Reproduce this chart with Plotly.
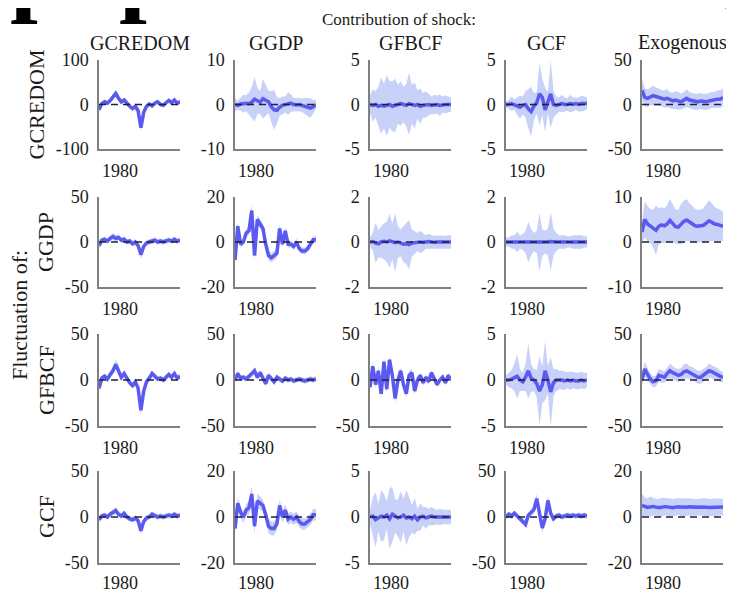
import plotly.graph_objects as go

# ---------------- data ----------------
DATES = [1974.0, 1974.8, 1975.6, 1976.4, 1977.2, 1978.0, 1978.8, 1979.6, 1980.4, 1981.2,
         1982.0, 1982.8, 1983.6, 1984.4, 1985.2, 1986.0, 1986.8, 1987.6, 1988.4, 1989.2,
         1990.0, 1990.8, 1991.6, 1992.4, 1993.2, 1994.0, 1994.8, 1995.6, 1996.4, 1997.2]

ROW_VARS = ["GCREDOM", "GGDP", "GFBCF", "GCF"]
COL_SHOCKS = ["GCREDOM", "GGDP", "GFBCF", "GCF", "Exogenous"]
X_TICKS = [1980]
X_TICK_TEXT = ["1980"]

Y_LIM_R1 = [100, 10, 5, 5, 50]
Y_LIM_R2 = [50, 20, 2, 2, 10]
Y_LIM_R3 = [50, 50, 50, 5, 50]
Y_LIM_R4 = [50, 20, 5, 50, 20]

# row 1: fluctuation of GCREDOM
MED_R1C1 = [-12, 2, 6, 3, 9, 16, 25, 14, 6, 10, 2, -4, -9, -4, -14, -52, -18, -4, 1, -3, 3, 6, 0, -2, 4, 9, 4, 10, 3, 6]
HW_R1C1 = [6, 5, 5, 5, 5, 6, 7, 6, 5, 5, 5, 5, 5, 5, 6, 8, 6, 5, 5, 5, 5, 5, 5, 5, 5, 5, 5, 5, 5, 5]
MED_R1C2 = [0, -0.2, 0.1, 0.2, 0.3, 0.2, 0.5, 1.2, 0.8, 0.5, 1.3, 1.0, 0.6, -0.5, -1.2, -1.3, -0.6, -0.2, 0.0, 0.2, 0.3, 0.0, -0.1, 0.0, -0.2, -0.3, -0.6, -0.8, -0.5, 0.0]
HW_R1C2 = [1.5, 1.0, 1.5, 2.0, 1.8, 2.5, 3.5, 5.0, 3.0, 2.5, 4.5, 3.5, 2.5, 3.5, 4.5, 3.0, 2.0, 2.0, 1.8, 2.5, 2.0, 1.5, 1.5, 1.5, 1.5, 1.8, 2.0, 2.2, 1.5, 1.0]
MED_R1C3 = [0, -0.1, 0.0, -0.2, -0.1, -0.2, -0.1, 0.0, -0.2, -0.1, 0.0, 0.1, 0.0, -0.1, 0.1, 0.0, -0.1, 0.0, -0.2, -0.1, 0.0, 0.0, -0.1, 0.0, 0.0, -0.1, 0.0, 0.0, 0.0, 0.0]
HW_R1C3 = [1.0, 1.8, 1.5, 2.2, 3.2, 2.5, 3.4, 2.6, 2.8, 3.0, 2.2, 2.5, 2.0, 2.4, 3.5, 2.2, 2.6, 1.6, 2.0, 1.4, 1.5, 1.2, 1.0, 1.1, 1.0, 1.2, 0.9, 1.0, 0.9, 0.8]
MED_R1C4 = [0, 0.0, 0.1, 0.0, -0.2, -0.3, -0.1, 0.0, -0.5, -0.8, -0.2, 0.2, 1.2, 0.8, -0.6, 0.2, 1.2, 0.0, -0.1, 0.0, 0.1, 0.0, 0.0, 0.1, 0.0, 0.1, 0.0, 0.1, 0.1, 0.1]
HW_R1C4 = [0.3, 0.5, 0.8, 0.6, 1.0, 1.3, 1.0, 1.5, 2.2, 2.8, 1.5, 1.2, 3.5, 2.0, 2.5, 1.2, 3.8, 1.5, 1.0, 0.8, 1.0, 0.8, 0.7, 1.0, 0.8, 0.7, 0.8, 0.9, 0.8, 0.7]
MED_R1C5 = [16, 8, 7, 9, 10, 9, 8, 7, 6, 7, 5, 4, 5, 4, 3, 5, 7, 5, 4, 3, 3, 4, 3, 3, 4, 5, 5, 6, 6, 8]
HW_R1C5 = [12, 10, 10, 10, 11, 10, 10, 9, 10, 10, 9, 9, 10, 10, 9, 9, 10, 9, 9, 9, 9, 9, 9, 9, 9, 9, 9, 10, 10, 10]

# row 2: fluctuation of GGDP
MED_R2C1 = [-4, 2, 3, 1, 4, 6, 4, 5, 2, 3, 0, 1, -2, 0, -4, -14, -5, -1, 0, 1, 2, 0, 1, 0, 1, 2, 1, 3, 1, 2]
HW_R2C1 = [4, 3, 3, 3, 3, 4, 4, 3, 3, 3, 3, 3, 3, 3, 3, 5, 3, 3, 3, 3, 3, 3, 3, 3, 3, 3, 3, 3, 3, 3]
MED_R2C2 = [-8, 7, -1, 0, 4, 5, 14, -6, 10, 8, 6, -1, -6, -7, -6, -5, 6, -1, 5, -1, -1, -2, 0, -3, -4, -4, -3, -1, 1, 1]
HW_R2C2 = [2, 2, 1.5, 1.5, 1.5, 2, 2.5, 2, 2, 2, 2, 1.5, 2, 2, 2, 2, 2, 1.5, 1.5, 1.5, 1.5, 1.5, 1.5, 1.5, 1.5, 1.5, 1.5, 1.5, 1.5, 1.5]
MED_R2C3 = [0, 0.02, -0.05, -0.08, 0.0, 0.03, 0.0, 0.05, 0.02, -0.03, 0.0, -0.05, -0.1, -0.08, -0.12, -0.05, -0.03, 0.0, 0.0, -0.02, 0.0, 0.02, 0.0, -0.02, 0.0, 0.0, -0.02, 0.0, 0.0, 0.0]
HW_R2C3 = [0.2, 0.4, 0.9, 0.6, 0.7, 0.8, 0.9, 1.2, 0.8, 1.3, 0.7, 0.6, 0.8, 0.9, 1.1, 0.6, 0.5, 0.4, 0.5, 0.4, 0.3, 0.35, 0.3, 0.3, 0.3, 0.3, 0.3, 0.3, 0.3, 0.3]
MED_R2C4 = [0, 0, 0, 0, 0, 0, 0, 0, 0, 0, 0, 0, 0, -0.02, 0, 0, 0.02, 0, 0, 0, 0, 0, 0, 0, 0, 0, 0, 0, 0, 0]
HW_R2C4 = [0.2, 0.2, 0.3, 0.3, 0.45, 0.3, 0.35, 0.5, 0.9, 0.6, 0.4, 0.5, 1.3, 0.6, 0.5, 0.6, 1.3, 0.6, 0.4, 0.3, 0.3, 0.3, 0.25, 0.25, 0.3, 0.3, 0.3, 0.3, 0.25, 0.25]
MED_R2C5 = [2.2, 5, 4, 3.5, 3.0, 2.6, 3.5, 3.8, 3.6, 4.0, 4.8, 4.2, 3.4, 3.3, 4.0, 4.6, 4.9, 4.4, 4.0, 3.6, 3.5, 3.6, 3.7, 4.2, 4.7, 4.4, 4.0, 3.9, 3.7, 3.5]
HW_R2C5 = [2.5, 4, 4, 3.8, 4.2, 5.5, 4, 4, 3.8, 4.2, 4.8, 4.2, 3.8, 3.8, 4.5, 4.6, 4.6, 4.2, 4.0, 3.8, 3.6, 3.6, 3.8, 4.2, 4.6, 4.2, 3.8, 3.6, 3.5, 3.3]

# row 3: fluctuation of GFBCF
MED_R3C1 = [-9, 2, 4, 1, 6, 10, 17, 9, 3, 7, 1, -3, -6, -2, -9, -33, -12, -2, 2, 7, 4, 1, 2, 0, 3, 6, 3, 7, 2, 4]
HW_R3C1 = [4, 3, 3, 3, 4, 4, 5, 4, 3, 4, 3, 3, 3, 3, 4, 6, 4, 3, 3, 3, 3, 3, 3, 3, 3, 3, 3, 3, 3, 3]
MED_R3C2 = [0, 7, 2, 3, 1, 4, 6, 10, 3, 8, 2, -4, 5, 1, -2, 3, 1, -1, 2, 0, 1, -1, 0, 1, 0, -1, 0, 1, 0, 1]
HW_R3C2 = [3, 3, 3, 3, 3, 3, 3, 4, 3, 3, 3, 3, 3, 3, 3, 3, 3, 3, 3, 3, 3, 3, 3, 3, 3, 3, 3, 3, 3, 3]
MED_R3C3 = [-8, 15, -5, 10, -15, 20, -10, 22, 5, -20, 0, 10, -5, -15, 5, 8, -12, 0, 5, -3, 3, -2, 8, 2, -5, 0, 3, -3, 5, 0]
HW_R3C3 = [4, 4, 4, 4, 4, 5, 4, 5, 4, 5, 4, 4, 4, 4, 4, 4, 4, 3, 3, 3, 3, 3, 3, 3, 3, 3, 3, 3, 3, 3]
MED_R3C4 = [0.0, 0.0, 0.1, 0.3, 0.4, 0.0, -0.2, 0.3, 1.0, 0.2, 0.0, -0.4, -1.2, -0.5, 1.0, 0.0, -1.3, -0.3, 0.0, 0.0, 0.0, -0.1, 0.0, -0.1, 0.0, -0.1, -0.1, 0.0, -0.1, 0.0]
HW_R3C4 = [0.5, 0.8, 1.0, 1.5, 2.4, 1.2, 1.0, 1.5, 3.0, 1.5, 1.2, 1.5, 3.8, 2.0, 3.2, 1.5, 3.8, 1.5, 1.2, 1.0, 1.0, 1.0, 0.9, 1.0, 0.9, 0.9, 0.9, 0.9, 0.9, 0.8]
MED_R3C5 = [0, 12, 6, 1, -2, -1, 5, 4, 3, 7, 10, 8, 6, 5, 6, 9, 10, 8, 7, 5, 3, 3, 5, 7, 10, 9, 7, 6, 4, 3]
HW_R3C5 = [5, 8, 7, 6, 6, 6, 7, 7, 6, 7, 8, 7, 7, 7, 7, 8, 8, 7, 7, 7, 7, 7, 7, 7, 8, 7, 7, 7, 6, 6]

# row 4: fluctuation of GCF
MED_R4C1 = [-3, 1, 2, 0, 3, 5, 7, 3, 1, 4, 0, -2, -3, -1, -4, -15, -5, -1, 0, 3, 1, 0, 1, 0, 1, 2, 1, 3, 1, 2]
HW_R4C1 = [3, 3, 3, 3, 3, 3, 4, 3, 3, 3, 3, 3, 3, 3, 3, 4, 3, 3, 3, 3, 3, 3, 3, 3, 3, 3, 3, 3, 3, 3]
MED_R4C2 = [-5, 6, 2, 0, 3, 4, 10, -4, 7, 6, 5, 1, -4, -5, -5, -3, 5, 0, 3, -1, 0, -1, 0, -2, -3, -3, -2, -1, 1, 1]
HW_R4C2 = [2.5, 2.5, 2.5, 2.5, 2.5, 3, 3.5, 3, 3, 3, 2.5, 2.5, 3, 3, 3, 2.5, 2.5, 2.5, 2.5, 2.5, 2.5, 2.5, 2.5, 2.5, 2.5, 2.5, 2.5, 2.5, 2.5, 2.5]
MED_R4C3 = [0, 0.1, -0.3, -0.1, 0.1, 0.0, 0.2, -0.2, 0.3, 0.1, -0.1, 0.0, 0.2, -0.1, 0.0, -0.2, 0.1, -0.3, 0.0, 0.1, -0.1, 0.0, 0.1, 0.0, 0.0, 0.0, 0.0, 0.0, 0.0, 0.0]
HW_R4C3 = [0.8, 2.0, 3.0, 1.5, 2.8, 2.5, 1.5, 3.3, 3.0, 1.8, 2.0, 2.8, 1.8, 3.0, 2.2, 1.5, 2.0, 1.2, 1.5, 1.0, 1.2, 0.9, 1.0, 0.9, 0.8, 0.9, 0.8, 0.8, 0.8, 0.8]
MED_R4C4 = [0, 3, 1, 4, 1, -2, -4, -8, 2, 5, 8, 20, 2, -12, -2, 18, 4, -2, 1, 2, 0, 1, 2, 1, 2, 1, 2, 1, 2, 1]
HW_R4C4 = [3, 3, 3, 3, 3, 3, 3, 4, 3, 3, 4, 5, 4, 5, 4, 5, 4, 3, 3, 3, 3, 3, 3, 3, 3, 3, 3, 3, 3, 3]
MED_R4C5 = [5, 4.5, 4.2, 4.4, 4.6, 4.3, 4.0, 4.2, 4.5, 4.4, 4.2, 4.0, 4.3, 4.5, 4.3, 4.1, 4.2, 4.4, 4.3, 4.1, 4.2, 4.3, 4.4, 4.2, 4.1, 4.2, 4.3, 4.4, 4.3, 4.4]
HW_R4C5 = [5, 4, 3.8, 4.5, 3.8, 3.6, 3.8, 4.2, 3.8, 3.8, 4, 3.7, 3.8, 3.6, 3.8, 4, 3.7, 3.8, 3.7, 3.6, 3.8, 3.7, 3.8, 4.0, 3.7, 3.6, 3.7, 3.8, 3.6, 3.6]

PANELS = [
    [(MED_R1C1, HW_R1C1), (MED_R1C2, HW_R1C2), (MED_R1C3, HW_R1C3), (MED_R1C4, HW_R1C4), (MED_R1C5, HW_R1C5)],
    [(MED_R2C1, HW_R2C1), (MED_R2C2, HW_R2C2), (MED_R2C3, HW_R2C3), (MED_R2C4, HW_R2C4), (MED_R2C5, HW_R2C5)],
    [(MED_R3C1, HW_R3C1), (MED_R3C2, HW_R3C2), (MED_R3C3, HW_R3C3), (MED_R3C4, HW_R3C4), (MED_R3C5, HW_R3C5)],
    [(MED_R4C1, HW_R4C1), (MED_R4C2, HW_R4C2), (MED_R4C3, HW_R4C3), (MED_R4C4, HW_R4C4), (MED_R4C5, HW_R4C5)],
]
Y_LIMS = [Y_LIM_R1, Y_LIM_R2, Y_LIM_R3, Y_LIM_R4]

# cropped caption line at the very top of the reference (only descenders visible)
TOP_GLYPHS = ["p", "p", "("]

# ---------------- layout / style ----------------
# the page body adds an 8px offset; the figure is sized to fill the rest of the window
OFF = 8
W, H = 734 - OFF, 592 - OFF


def fx(px):
    return (px - OFF) / W


def fy(py):
    return 1 - (py - OFF) / H


COL_LEFT = [99, 235, 370, 506, 642]
COL_W = 81
ROW_TOP = [60, 197, 334, 471]
ROW_H = [89, 90, 92, 92]
ROW_LABEL_X = [36, 46, 46, 46]
X_STANDOFF = [5, 5, 5, 3]
FONT = "Liberation Serif"
TXT = "#1a1a1a"
LINE_C = "#5a5af0"
BAND_C = "#c8d1f8"
AXIS_C = "#808080"

fig = go.Figure()
layout = dict(width=W, height=H, margin=dict(l=0, r=0, t=0, b=0, autoexpand=False),
              paper_bgcolor="white", plot_bgcolor="white", showlegend=False)

n = 0
for r in range(4):
    for c in range(5):
        n += 1
        xa = "x" if n == 1 else f"x{n}"
        ya = "y" if n == 1 else f"y{n}"
        med, hw = PANELS[r][c]
        upper = [m + h for m, h in zip(med, hw)]
        lower = [m - h for m, h in zip(med, hw)]
        fig.add_trace(go.Scatter(x=DATES + DATES[::-1], y=upper + lower[::-1],
                                 fill="toself", fillcolor=BAND_C, line=dict(width=0),
                                 mode="lines", hoverinfo="skip", xaxis=xa, yaxis=ya))
        fig.add_trace(go.Scatter(x=DATES, y=med, mode="lines",
                                 line=dict(color=LINE_C, width=3.5), xaxis=xa, yaxis=ya))
        fig.add_trace(go.Scatter(x=[DATES[0], DATES[-1]], y=[0, 0], mode="lines",
                                 line=dict(color="#20203a", width=1.5, dash="7px,5px"),
                                 xaxis=xa, yaxis=ya))
        lim = Y_LIMS[r][c]
        x0 = COL_LEFT[c]
        y0 = ROW_TOP[r]
        xkey = "xaxis" if n == 1 else f"xaxis{n}"
        ykey = "yaxis" if n == 1 else f"yaxis{n}"
        layout[xkey] = dict(domain=[fx(x0), fx(x0 + COL_W)], anchor=ya, automargin=False,
                            range=[DATES[0], DATES[-1]], tickvals=X_TICKS, ticktext=X_TICK_TEXT,
                            showline=True, linecolor=AXIS_C, linewidth=1.5, showgrid=False,
                            zeroline=False, ticks="", ticklabelstandoff=X_STANDOFF[r],
                            tickfont=dict(family=FONT, size=18, color=TXT))
        layout[ykey] = dict(domain=[fy(y0 + ROW_H[r]), fy(y0)], anchor=xa, automargin=False,
                            range=[-lim, lim], tickvals=[-lim, 0, lim],
                            ticktext=[f"-{lim}", "0", f"{lim}"],
                            showline=True, linecolor=AXIS_C, linewidth=1.5, showgrid=False,
                            zeroline=False, ticks="", ticklabelstandoff=5,
                            tickfont=dict(family=FONT, size=18, color=TXT))

ann = []
for c, name in enumerate(COL_SHOCKS):
    ann.append(dict(text=name, x=fx(COL_LEFT[c] + COL_W / 2), y=fy(43),
                    xref="paper", yref="paper", xanchor="center", yanchor="middle",
                    showarrow=False, font=dict(family=FONT, size=20, color=TXT)))
for r, name in enumerate(ROW_VARS):
    ann.append(dict(text=name, x=fx(ROW_LABEL_X[r]), y=fy(ROW_TOP[r] + ROW_H[r] / 2),
                    xref="paper", yref="paper", xanchor="center", yanchor="middle",
                    textangle=-90, showarrow=False, font=dict(family=FONT, size=22, color=TXT)))
ann.append(dict(text="Contribution of shock:", x=fx(399), y=fy(20), xref="paper", yref="paper",
                xanchor="center", yanchor="middle", showarrow=False,
                font=dict(family=FONT, size=17, color=TXT)))
ann.append(dict(text="Fluctuation of:", x=fx(19), y=fy(315), xref="paper", yref="paper",
                xanchor="center", yanchor="middle", textangle=-90, showarrow=False,
                font=dict(family=FONT, size=22, color=TXT)))
for gx, g in zip([38, 147, 730], TOP_GLYPHS):
    ann.append(dict(text=f"<b>{g}</b>", x=fx(gx), y=fy(26), xref="paper", yref="paper",
                    xanchor="center", yanchor="bottom", showarrow=False, borderpad=0,
                    font=dict(family=FONT, size=100, color="#000000")))
layout["annotations"] = ann
fig.update_layout(**layout)
fig.write_html("out.html")
